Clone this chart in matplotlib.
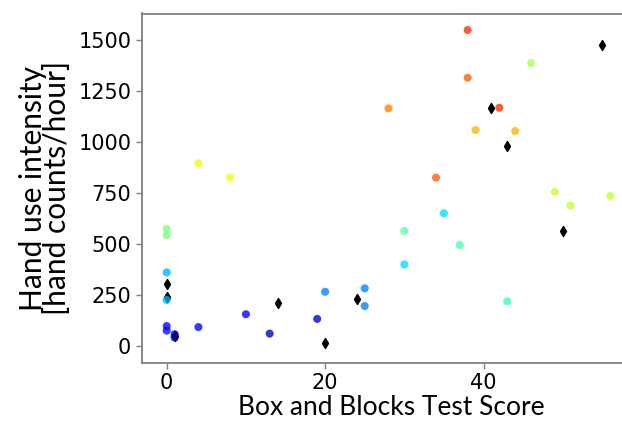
import matplotlib
matplotlib.use("Agg")
import matplotlib.pyplot as plt
import numpy as np

# Circle points: Box and Blocks score, hand use intensity, colour value (jet)
circ_x = [0, 0, 0, 0, 0, 0, 1, 1, 4, 4, 8, 10, 13, 19, 20, 25, 25,
          28, 30, 30, 34, 35, 37, 38, 38, 39, 42, 43, 44, 46, 49, 51, 56]
circ_y = [574, 545, 362, 99, 77, 227, 59, 43, 94, 896, 826, 157, 62, 134, 267, 284, 197,
          1165, 565, 401, 826, 651, 496, 1549, 1315, 1059, 1168, 220, 1054, 1387, 757, 690, 737]
circ_c = [0.50, 0.50, 0.30, 0.13, 0.13, 0.30, 0.03, 0.03, 0.13, 0.64, 0.64, 0.11, 0.07, 0.07, 0.25, 0.25, 0.25,
          0.77, 0.45, 0.34, 0.81, 0.34, 0.44, 0.86, 0.81, 0.72, 0.86, 0.42, 0.72, 0.56, 0.59, 0.59, 0.59]

# Black diamond points
dia_x = [0, 0, 1, 14, 20, 24, 41, 43, 50, 55]
dia_y = [303, 240, 50, 210, 15, 230, 1165, 982, 563, 1475]

x_label = "Box and Blocks Test Score"
y_label = "Hand use intensity\n[hand counts/hour]"
x_ticks = [0, 20, 40]
y_ticks = [0, 250, 500, 750, 1000, 1250, 1500]

fig = plt.figure(figsize=(6.22, 4.21), dpi=100)
W, H = 622, 421
ax = fig.add_axes([141.7 / W, 58 / H, (640 - 141.7) / W, (407.5 - 58) / H])

ax.scatter(dia_x, dia_y, marker="d", s=26, color="black", zorder=2)
ax.scatter(circ_x, circ_y, c=circ_c, cmap="jet", vmin=0, vmax=1, s=34,
           alpha=0.78, edgecolors="none", zorder=3)

ax.set_xlim(-3.16, (640 - 166.7) / 7.92)
ax.set_ylim(-81.8, 1629.8)
ax.set_xticks(x_ticks)
ax.set_yticks(y_ticks)

for s in ["left", "bottom", "top"]:
    ax.spines[s].set_color("#808080")
    ax.spines[s].set_linewidth(1.3)
ax.spines["right"].set_visible(False)
ax.tick_params(axis="both", colors="#808080", labelcolor="black",
               labelsize=15, length=4, width=1)

ax.set_xlabel(x_label, fontsize=19, family=["Lato", "DejaVu Sans"], labelpad=1)
ax.set_ylabel(y_label, fontsize=21.5, family=["Lato", "DejaVu Sans"], labelpad=5,
              linespacing=0.85)

fig.savefig("out.png", dpi=100)
